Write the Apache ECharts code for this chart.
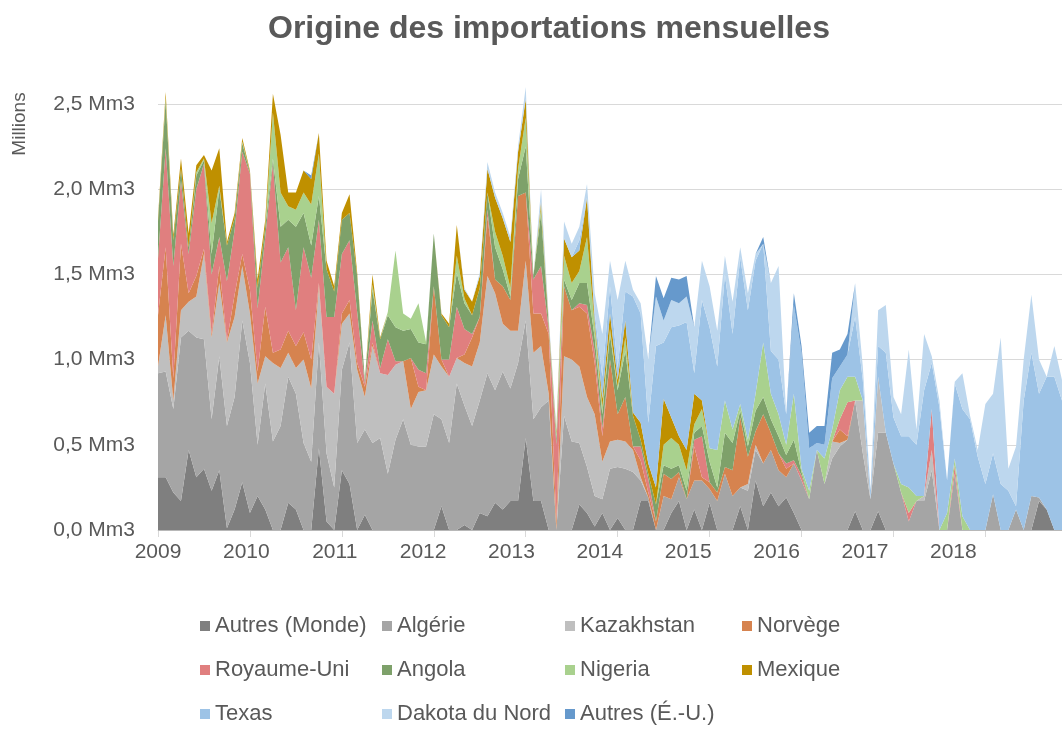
<!DOCTYPE html>
<html>
<head>
<meta charset="utf-8">
<script src="https://cdn.jsdelivr.net/npm/echarts@6/dist/echarts.min.js"></script>
<style>
  html, body { margin: 0; padding: 0; background: #fff; }
  #chart { width: 1062px; height: 730px; }
</style>
</head>
<body>
<div id="chart"></div>
<script>
// mois de janvier 2009 à novembre 2018
const months = [];
for (let y = 2009; y <= 2018; y++) {
    for (let m = 1; m <= 12; m++) months.push(y + '-' + String(m).padStart(2, '0'));
}
months.length = 119;

const yearLabels = ['2009', '2010', '2011', '2012', '2013', '2014', '2015', '2016', '2017', '2018'];

// volumes mensuels, en millions de m3
const autresMonde = [
    0.31, 0.31, 0.22, 0.17, 0.47, 0.31, 0.36, 0.23, 0.35, 0.01,
    0.12, 0.28, 0.10, 0.20, 0.12, 0, 0, 0.16, 0.12, 0,
    0, 0.48, 0.05, 0, 0.35, 0.27, 0, 0.09, 0, 0,
    0, 0, 0, 0, 0, 0, 0, 0.14, 0, 0,
    0.03, 0, 0.10, 0.08, 0.16, 0.12, 0.17, 0.17, 0.54, 0.17,
    0.17, 0, 0, 0, 0, 0.15, 0.10, 0.02, 0.10, 0,
    0.07, 0, 0, 0.17, 0.17, 0, 0, 0.10, 0.17, 0,
    0.12, 0, 0.16, 0, 0, 0, 0.14, 0, 0.29, 0.14,
    0.22, 0.14, 0.19, 0.10, 0, 0, 0, 0, 0, 0,
    0, 0.11, 0, 0, 0.11, 0, 0, 0, 0, 0,
    0, 0, 0, 0, 0, 0, 0, 0, 0, 0,
    0, 0, 0, 0, 0, 0.17, 0.12, 0, 0
];
const algerie = [
    0.61, 0.62, 0.49, 0.96, 0.70, 0.82, 0.76, 0.42, 0.67, 0.60,
    0.66, 0.95, 0.88, 0.30, 0.74, 0.52, 0.61, 0.74, 0.68, 0.51,
    0.40, 0.62, 0.40, 0.25, 0.59, 0.83, 0.51, 0.50, 0.51, 0.54,
    0.33, 0.53, 0.65, 0.50, 0.49, 0.49, 0.68, 0.51, 0.51, 0.86,
    0.70, 0.61, 0.66, 0.84, 0.66, 0.81, 0.66, 0.81, 0.69, 0.48,
    0.55, 0.76, 0, 0.67, 0.52, 0.36, 0.27, 0.18, 0.08, 0.36,
    0.30, 0.36, 0.34, 0.12, 0.02, 0, 0.20, 0.08, 0.14, 0.18,
    0.17, 0.29, 0.08, 0.17, 0.33, 0.20, 0.11, 0.23, 0.18, 0.25,
    0.25, 0.21, 0.12, 0.29, 0.29, 0.18, 0.47, 0.27, 0.42, 0.49,
    0.53, 0.65, 0.45, 0.18, 0.46, 0.57, 0.39, 0.22, 0.05, 0.17,
    0.17, 0.35, 0, 0, 0.33, 0, 0, 0, 0, 0.21,
    0, 0, 0.12, 0, 0.20, 0.02, 0, 0, 0
];
const kazakhstan = [
    0.04, 0.33, 0.05, 0.16, 0.17, 0.24, 0.50, 0.48, 0.43, 0.49,
    0.47, 0.32, 0.29, 0.36, 0.16, 0.46, 0.34, 0.14, 0.15, 0.49,
    0.43, 0.33, 0.39, 0.55, 0.27, 0.17, 0.43, 0.19, 0.57, 0.38,
    0.58, 0.44, 0.34, 0.21, 0.32, 0.33, 0.35, 0.31, 0.39, 0.15,
    0.25, 0.35, 0.34, 0.57, 0.57, 0.28, 0.34, 0.19, 0.35, 0.39,
    0.36, 0.04, 0, 0.35, 0.48, 0.45, 0.41, 0.48, 0.22, 0.16,
    0.16, 0.16, 0.13, 0.02, 0, 0, 0, 0, 0, 0,
    0, 0, 0, 0, 0, 0, 0, 0.04, 0.03, 0,
    0, 0, 0, 0, 0, 0, 0, 0, 0.10, 0.02,
    0, 0, 0.31, 0, 0.33, 0, 0, 0, 0, 0,
    0.03, 0.12, 0, 0, 0, 0, 0, 0, 0, 0,
    0, 0, 0, 0, 0, 0, 0, 0, 0
];
const norvege = [
    0.30, 0.40, 0.13, 0.39, 0.05, 0.12, 0.03, 0.02, 0.10, 0.01,
    0.13, 0.07, 0.14, 0.07, 0.29, 0.06, 0.11, 0.13, 0.13, 0.16,
    0.17, 0.02, 0, 0, 0.06, 0.08, 0.04, 0.06, 0.02, 0,
    0, 0, 0, 0.30, 0.03, 0, 0.40, 0.04, 0, 0,
    0.05, 0.17, 0.15, 0.35, 0.08, 0.22, 0.18, 0.79, 0.40, 0.23,
    0.19, 0.35, 0.05, 0.41, 0.29, 0.35, 0.49, 0.30, 0.15, 0.48,
    0.15, 0.26, 0.02, 0.10, 0.03, 0.05, 0.13, 0.12, 0.03, 0,
    0.20, 0.02, 0.04, 0.05, 0.04, 0.15, 0.41, 0.16, 0.08, 0.29,
    0.10, 0.10, 0.05, 0, 0, 0, 0, 0, 0, 0.08,
    0.02, 0, 0, 0, 0, 0, 0, 0, 0, 0,
    0, 0, 0, 0, 0, 0, 0, 0, 0, 0,
    0, 0, 0, 0, 0, 0, 0, 0, 0
];
const royaumeUni = [
    0.33, 0.58, 0.66, 0.37, 0.23, 0.51, 0.50, 0.35, 0.17, 0.35,
    0.38, 0.60, 0.68, 0.37, 0.41, 1.11, 0.51, 0.49, 0.21, 0.50,
    0.48, 0.37, 0.41, 0.45, 0.35, 0.35, 0.30, 0.02, 0.13, 0.03,
    0.21, 0.02, 0, 0, 0.10, 0.10, 0, 0, 0.10, 0.30,
    0.15, 0.02, 0, 0.04, 0, 0, 0, 0, 0, 0.20,
    0.28, 0.03, 0.45, 0, 0, 0.02, 0.05, 0.07, 0.05, 0,
    0, 0, 0, 0.08, 0.08, 0, 0, 0, 0, 0,
    0.04, 0.24, 0, 0, 0, 0, 0, 0, 0, 0,
    0, 0, 0.03, 0.02, 0.03, 0, 0, 0, 0, 0.06,
    0.20, 0, 0, 0, 0, 0, 0, 0, 0.05, 0,
    0, 0.24, 0, 0, 0.05, 0, 0, 0, 0, 0,
    0, 0, 0, 0, 0, 0, 0, 0, 0
];
const angola = [
    0.22, 0.28, 0.15, 0.07, 0.04, 0.08, 0.02, 0.12, 0.28, 0.21,
    0.07, 0.05, 0.01, 0.12, 0.06, 0.03, 0.21, 0.16, 0.49, 0.20,
    0.19, 0.14, 0.28, 0.15, 0.20, 0.16, 0.21, 0.02, 0.18, 0.17,
    0.14, 0.20, 0.18, 0.17, 0.16, 0.17, 0.31, 0.26, 0.19, 0.20,
    0.15, 0.11, 0.17, 0.10, 0.19, 0.10, 0.02, 0.10, 0.27, 0.02,
    0.31, 0.02, 0.04, 0.04, 0.06, 0.12, 0.13, 0.08, 0.08, 0.15,
    0.14, 0.27, 0.18, 0.04, 0.03, 0.10, 0.05, 0.06, 0.04, 0.05,
    0.04, 0.06, 0.12, 0.03, 0.20, 0.16, 0.04, 0.06, 0.12, 0.10,
    0.08, 0.10, 0.05, 0.12, 0.02, 0, 0, 0, 0, 0,
    0, 0, 0, 0, 0, 0, 0, 0, 0, 0,
    0, 0, 0, 0, 0, 0, 0, 0, 0, 0,
    0, 0, 0, 0, 0, 0, 0, 0, 0
];
const nigeria = [
    0, 0.02, 0, 0, 0, 0.02, 0.01, 0.18, 0.02, 0,
    0, 0.01, 0, 0, 0, 0.27, 0.20, 0.08, 0.10, 0.12,
    0.24, 0.25, 0, 0, 0, 0, 0, 0, 0.03, 0,
    0.02, 0.45, 0.10, 0.06, 0.23, 0.01, 0, 0, 0, 0.10,
    0.03, 0, 0, 0, 0.09, 0.08, 0.05, 0.06, 0.17, 0,
    0.04, 0, 0.02, 0.14, 0.10, 0.07, 0.27, 0.07, 0.04, 0.03,
    0.02, 0.08, 0, 0, 0, 0, 0.12, 0.18, 0.12, 0.12,
    0.05, 0.10, 0.08, 0.22, 0.19, 0.08, 0.04, 0.04, 0.10, 0.32,
    0.15, 0.13, 0.06, 0.27, 0.02, 0.05, 0, 0.15, 0.07, 0.17,
    0.15, 0.14, 0, 0, 0, 0, 0, 0.05, 0.15, 0.03,
    0, 0, 0, 0.10, 0.04, 0.08, 0, 0, 0, 0,
    0, 0, 0, 0, 0, 0, 0, 0, 0
];
const mexique = [
    0.02, 0.03, 0.03, 0.06, 0.08, 0.04, 0.02, 0.31, 0.22, 0.02,
    0.03, 0.02, 0.01, 0.05, 0.04, 0.11, 0.34, 0.08, 0.10, 0.13,
    0.15, 0.12, 0.05, 0.03, 0.04, 0.11, 0.02, 0, 0.06, 0.01,
    0, 0, 0, 0, 0, 0, 0, 0.01, 0.02, 0.18,
    0.05, 0.08, 0.07, 0.14, 0.20, 0.22, 0.27, 0.10, 0.11, 0,
    0.03, 0.02, 0.02, 0.10, 0.15, 0.12, 0.23, 0.03, 0.05, 0.09,
    0.04, 0.10, 0.02, 0.10, 0.06, 0.10, 0.27, 0.12, 0.05, 0.12,
    0.18, 0.05, 0, 0, 0, 0, 0, 0, 0, 0,
    0, 0, 0, 0, 0, 0, 0, 0, 0, 0,
    0, 0, 0, 0, 0, 0, 0, 0, 0, 0,
    0, 0, 0, 0, 0, 0, 0, 0, 0, 0,
    0, 0, 0, 0, 0, 0, 0, 0, 0
];
const texas = [
    0, 0, 0, 0, 0, 0, 0, 0, 0, 0,
    0, 0, 0, 0, 0, 0, 0, 0, 0, 0,
    0, 0, 0, 0, 0, 0, 0, 0, 0, 0,
    0, 0, 0, 0, 0, 0, 0, 0, 0, 0,
    0, 0, 0, 0, 0, 0, 0, 0, 0, 0,
    0, 0, 0, 0, 0, 0.06, 0, 0.05, 0.13, 0.16,
    0.07, 0.17, 0.68, 0.64, 0.24, 0.83, 0.33, 0.53, 0.65, 0.75,
    0.12, 0.59, 0.71, 0.49, 0.74, 0.56, 0.86, 0.76, 0.78, 0.58,
    0.25, 0.32, 0.18, 0.52, 0.68, 0.25, 0.04, 0.08, 0.30, 0.14,
    0.13, 0.35, 0.12, 0.05, 0.18, 0.47, 0.27, 0.28, 0.30, 0.30,
    0.62, 0.27, 0.72, 0.19, 0.44, 0.63, 0.65, 0.43, 0.27, 0.24,
    0.27, 0.23, 0.02, 0.76, 0.84, 0.61, 0.78, 0.90, 0.76
];
const dakotaNord = [
    0, 0, 0, 0, 0, 0, 0, 0, 0, 0,
    0, 0, 0, 0, 0, 0, 0, 0, 0, 0,
    0, 0, 0, 0, 0, 0, 0, 0, 0, 0,
    0, 0, 0, 0, 0, 0, 0, 0, 0, 0,
    0.01, 0, 0.02, 0.04, 0.03, 0.03, 0.03, 0.03, 0.07, 0,
    0.07, 0.03, 0.02, 0.10, 0.08, 0.08, 0.08, 0.11, 0.25, 0.15,
    0.40, 0.18, 0.04, 0.06, 0.37, 0.29, 0.13, 0.16, 0.13, 0.15,
    0.27, 0.23, 0.24, 0.21, 0.11, 0.19, 0.06, 0.10, 0.04, 0,
    0.40, 0.55, 0, 0, 0, 0, 0, 0, 0, 0,
    0, 0.20, 0.08, 0, 0.21, 0.28, 0.12, 0.13, 0.51, 0.09,
    0.33, 0.04, 0.04, 0, 0.01, 0.21, 0.02, 0.04, 0.47, 0.35,
    0.86, 0.13, 0.35, 0.24, 0.34, 0.20, 0, 0.18, 0.12
];
const autresEU = [
    0, 0, 0, 0, 0, 0, 0, 0, 0, 0,
    0, 0, 0, 0, 0, 0, 0, 0, 0, 0,
    0.02, 0, 0, 0, 0, 0, 0, 0, 0, 0,
    0, 0, 0, 0, 0, 0, 0, 0, 0, 0,
    0, 0, 0, 0, 0, 0, 0, 0, 0, 0,
    0, 0, 0, 0, 0, 0, 0, 0, 0, 0,
    0, 0, 0, 0, 0, 0.12, 0.13, 0.13, 0.14, 0.12,
    0, 0, 0, 0, 0, 0, 0, 0, 0, 0.04,
    0, 0, 0, 0.07, 0.04, 0.09, 0.10, 0.11, 0.15, 0.10,
    0.12, 0, 0, 0, 0, 0, 0, 0, 0, 0,
    0, 0, 0, 0, 0, 0, 0, 0, 0, 0,
    0, 0, 0, 0, 0, 0, 0, 0, 0
];

const seriesDefs = [
    { name: 'Autres (Monde)', data: autresMonde, color: '#7f7f7f' },
    { name: 'Algérie', data: algerie, color: '#a5a5a5' },
    { name: 'Kazakhstan', data: kazakhstan, color: '#bfbfbf' },
    { name: 'Norvège', data: norvege, color: '#d6834f' },
    { name: 'Royaume-Uni', data: royaumeUni, color: '#e07f7f' },
    { name: 'Angola', data: angola, color: '#7ea16a' },
    { name: 'Nigeria', data: nigeria, color: '#a9d18e' },
    { name: 'Mexique', data: mexique, color: '#bf9000' },
    { name: 'Texas', data: texas, color: '#9dc3e6' },
    { name: 'Dakota du Nord', data: dakotaNord, color: '#bdd7ee' },
    { name: 'Autres (É.-U.)', data: autresEU, color: '#6699cc' },
];

// colonnes de la légende (3 lignes x 4 colonnes)
const legendCols = [
    ['Autres (Monde)', 'Royaume-Uni', 'Texas'],
    ['Algérie', 'Angola', 'Dakota du Nord'],
    ['Kazakhstan', 'Nigeria', 'Autres (É.-U.)'],
    ['Norvège', 'Mexique'],
];
const legendX = [200, 382, 565, 742];

const FONT = '"Liberation Sans", Arial, sans-serif';
const TXT = '#595959';
const yearStep = 11.535; // écart des étiquettes d'années, en mois

const chart = echarts.init(document.getElementById('chart'));

chart.setOption({
    animation: false,
    backgroundColor: '#fff',
    textStyle: { fontFamily: FONT },
    title: {
        text: 'Origine des importations mensuelles',
        left: 263,
        top: 8,
        textStyle: { fontSize: 32, fontWeight: 'bold', color: TXT, fontFamily: FONT },
    },
    graphic: [{
        type: 'text',
        x: 20,
        y: 124,
        rotation: Math.PI / 2,
        style: {
            text: 'Millions',
            fill: TXT,
            font: '19px ' + FONT,
            textAlign: 'center',
            textVerticalAlign: 'middle',
        },
    }],
    legend: legendCols.map((names, k) => ({
        orient: 'vertical',
        left: legendX[k],
        top: 615,
        padding: 0,
        icon: 'rect',
        itemWidth: 10,
        itemHeight: 10,
        itemGap: 22,
        selectedMode: false,
        data: names,
        textStyle: { fontSize: 22, color: TXT, fontFamily: FONT, lineHeight: 22 },
    })),
    grid: { left: 158, top: 104, width: 905, height: 426, containLabel: false },
    xAxis: [{
        type: 'category',
        data: months,
        boundaryGap: false,
        axisLine: { lineStyle: { color: '#d9d9d9', width: 1 } },
        axisTick: { interval: 11, length: 7, lineStyle: { color: '#d9d9d9' } },
        axisLabel: { show: false },
        splitLine: { show: false },
    }, {
        type: 'value',
        min: 0,
        max: months.length - 1,
        interval: yearStep,
        position: 'bottom',
        axisLine: { show: false },
        axisTick: { show: false },
        splitLine: { show: false },
        axisLabel: {
            margin: 12,
            fontSize: 21,
            color: TXT,
            showMaxLabel: false,
            formatter: v => {
                const k = Math.round(v / yearStep);
                return (Math.abs(v - k * yearStep) < 0.01 && yearLabels[k]) ? yearLabels[k] : '';
            },
        },
    }],
    yAxis: {
        type: 'value',
        min: 0,
        max: 2.5,
        interval: 0.5,
        z: 3,
        axisLine: { show: false },
        axisTick: { show: false },
        splitLine: { lineStyle: { color: 'rgba(0,0,0,0.15)', width: 1 } },
        axisLabel: {
            margin: 23,
            fontSize: 21,
            color: TXT,
            formatter: v => v.toFixed(1).replace('.', ',') + ' Mm3',
        },
    },
    series: seriesDefs.map(s => ({
        name: s.name,
        type: 'line',
        stack: 'total',
        data: s.data,
        xAxisIndex: 0,
        symbol: 'none',
        clip: false,
        lineStyle: { opacity: 0 },
        itemStyle: { color: s.color },
        areaStyle: { color: s.color, opacity: 1 },
        emphasis: { disabled: true },
    })),
});
</script>
</body>
</html>
